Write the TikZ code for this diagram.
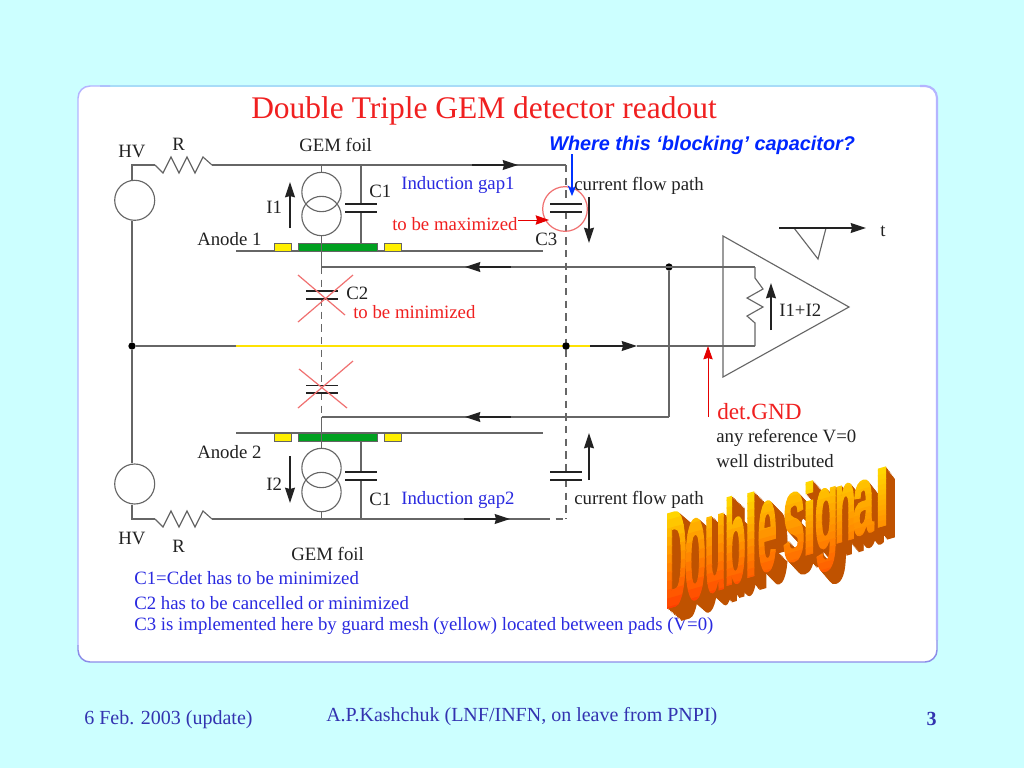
\documentclass[tikz,border=0pt]{standalone}
\usepackage{fontspec}
\setmainfont{Liberation Serif}
\newfontfamily\wafont{Liberation Sans}
\newfontfamily\wafat[FakeBold=2.2]{Liberation Sans Bold}
\usetikzlibrary{arrows.meta,calc}
\definecolor{bgc}{HTML}{CCFFFF}
\definecolor{wire}{HTML}{666666}
\definecolor{ink}{HTML}{222222}
\definecolor{bluetxt}{HTML}{2A2AE0}
\definecolor{redtxt}{HTML}{F02020}
\definecolor{foot}{HTML}{3333B0}
\definecolor{cross}{HTML}{F07070}
\definecolor{gemgreen}{HTML}{00A020}
\definecolor{meshy}{HTML}{FFF000}
\definecolor{extr}{HTML}{BF5200}
\definecolor{waa}{HTML}{FFD800}
\definecolor{wab}{HTML}{FF3C00}
\definecolor{frmtop}{HTML}{A8DCF8}
\definecolor{frmright}{HTML}{B4B4FF}
\definecolor{frmbot}{HTML}{8C8CE8}
\tikzset{
  x=0.75pt,y=-0.75pt,
  wr/.style={draw=wire,line width=0.85pt},
  plate/.style={draw=ink,line width=0.9pt},
  dsh/.style={draw=wire,line width=0.85pt,dash pattern=on 5.5pt off 4pt},
  arr/.style={draw=ink,line width=0.95pt,-{Stealth[length=11.5pt,width=7.5pt,inset=1pt]}},
  redarr/.style={draw=red!90!black,line width=0.7pt,-{Stealth[length=10pt,width=7pt,inset=1pt]}},
  lab/.style={font=\fontsize{14.1}{16}\selectfont,text=ink,inner sep=0pt,anchor=west,yshift=-1.3pt},
  blab/.style={lab,text=bluetxt},
  rlab/.style={lab,text=redtxt},
  src/.style={circle,draw=wire,line width=0.85pt,minimum size=30pt,inner sep=0pt},
  dotn/.style={circle,fill=black,inner sep=0pt,minimum size=5.5pt},
  crs/.style={draw=cross,line width=0.9pt},
  foottx/.style={font=\fontsize{15}{17}\selectfont,text=foot,inner sep=0pt,yshift=-1.5pt},
}
\newcommand{\resup}[2]{\draw[wr] (#1) -- ++(8,8) -- ++(8,-16) -- ++(8,16) -- ++(8,-16) -- ++(8,16) -- ++(8,-16) -- (#2);}
\begin{document}
\begin{tikzpicture}
\useasboundingbox (0,0) rectangle (1024,768);
\fill[bgc] (0,0) rectangle (1024,768);
% frame
\fill[white,rounded corners=9pt] (78,86) rectangle (937,662);
\draw[draw=frmtop,line width=1.1pt] (100,86) -- (925,86);
\draw[draw=frmright,line width=1.1pt,rounded corners=9pt] (78,645) -- (78,86) -- (110,86);
\draw[draw=frmright,line width=1.6pt,rounded corners=9pt] (920,86) -- (937,86) -- (937,640);
\draw[draw=frmbot,line width=1.1pt,rounded corners=9pt] (78,645) -- (78,662) -- (937,662) -- (937,640);
% title
\node[font=\fontsize{23.6}{26}\selectfont,text=redtxt,inner sep=0pt,anchor=west,yshift=-2.6pt] (title) at (251,107) {Double Triple GEM detector readout};
% named points
\coordinate (tl) at (132,165); \coordinate (bl) at (132,519);
\coordinate (r1a) at (155,165); \coordinate (r1b) at (212,165);
\coordinate (r2a) at (155,519); \coordinate (r2b) at (212,519);
\coordinate (junL) at (132,346);
\coordinate (g1) at (321.5,165); \coordinate (g2) at (321.5,519);
\coordinate (c1t) at (361,165); \coordinate (c1b) at (361,519);
\coordinate (c3t) at (566,165); \coordinate (c3b) at (566,519);
\coordinate (s1) at (321.5,267); \coordinate (s2) at (321.5,417);
\coordinate (ampR) at (755,267); \coordinate (ampG) at (755,346);
\node[dotn] (jL) at (junL) {};
\node[dotn] (jC) at (566,346) {};
\node[dotn] (jR) at (669,267) {};
\coordinate (jB) at (669,417);
% HV sources
\node[src] (hv1) at (134.7,200.3) {};
\node[src] (hv2) at (134.7,484) {};
\draw[wr] (r1a) -- (tl) -- (tl|-hv1.north);
\draw[wr] (tl|-hv1.south) -- (jL);
\draw[wr] (jL) -- (tl|-hv2.north);
\draw[wr] (tl|-hv2.south) -- (bl) -- (r2a);
\resup{r1a}{r1b}
\resup{r2a}{r2b}
% top/bottom rails
\draw[wr] (r1b) -- (c3t);
\draw[wr] (r2b) -- (543,519);
\coordinate (a1) at (472,165); \coordinate (a1e) at (518,165);
\coordinate (a2) at (464,519); \coordinate (a2e) at (510,519);
\draw[arr] (a1) -- (a1e);
\draw[arr] (a2) -- (a2e);
\draw[dsh] (543,519) -- (c3b);
% current sources
\node[src,minimum size=29.5pt] (i1a) at (321.5,192) {};
\node[src,minimum size=29.5pt] (i1b) at (321.5,216) {};
\node[src,minimum size=29.5pt] (i2a) at (321.5,468) {};
\node[src,minimum size=29.5pt] (i2b) at (321.5,492) {};
\draw[wr] (g1) -- (i1a.north);
\draw[wr] (g2) -- (i2b.south);
% C1 capacitors
\draw[wr] (c1t) -- (361,204); \draw[wr] (361,212) -- (361,244);
\draw[plate] (345,204) -- (377,204); \draw[plate] (345,212) -- (377,212);
\draw[wr] (c1b) -- (361,480); \draw[wr] (361,472) -- (361,441);
\draw[plate] (345,472) -- (377,472); \draw[plate] (345,480) -- (377,480);
% anodes
\draw[wr] (236,251) -- (543,251);
\draw[wr] (236,433) -- (543,433);
\draw[draw=ink!70,line width=0.4pt,fill=gemgreen] (298,243.5) rectangle (377,251);
\draw[draw=ink!70,line width=0.4pt,fill=gemgreen] (298,433) rectangle (377,441);
\draw[draw=ink!70,line width=0.5pt,fill=meshy] (274,243.5) rectangle (291,251);
\draw[draw=ink!70,line width=0.5pt,fill=meshy] (384,243.5) rectangle (401,251);
\draw[draw=ink!70,line width=0.5pt,fill=meshy] (274,433) rectangle (291,441);
\draw[draw=ink!70,line width=0.5pt,fill=meshy] (384,433) rectangle (401,441);
\draw[wr] (i1b.south) -- (s1);
\draw[wr] (i2a.north) -- (s2);
% signal rails
\draw[wr] (s1) -- (ampR);
\draw[wr] (s2) -- (jB);
\draw[wr] (jR) -- (jB);
\draw[arr] (511,267) -- (465,267);
\draw[arr] (511,417) -- (465,417);
% main line
\draw[wr] (jL) -- (236,346);
\draw[draw=yellow!85!orange,line width=1pt] (236,346) -- (590,346);
\draw[wr] (637,346) -- (ampG);
\draw[arr] (590,346) -- (637,346);
% C2 dashed
\draw[dsh] (s1) -- (321.5,291);
\draw[dsh] (321.5,299) -- (321.5,385);
\draw[dsh] (321.5,393) -- (s2);
\draw[plate] (306,291) -- (338,291); \draw[plate] (306,299) -- (338,299);
\draw[plate] (306,385.5) -- (338,385.5); \draw[plate] (306,393) -- (338,393);
\draw[crs] (298,275) -- (345,315); \draw[crs] (353,275) -- (298,322);
\draw[crs] (299,369) -- (347,408); \draw[crs] (353,361) -- (298,408);
% C3
\draw[dsh] (c3t) -- (566,204);
\draw[dsh] (566,212) -- (jC);
\draw[dsh] (jC) -- (566,472);
\draw[dsh] (566,480) -- (c3b);
\draw[plate] (550,204) -- (582,204); \draw[plate] (550,212) -- (582,212);
\draw[plate] (550,472) -- (582,472); \draw[plate] (550,480) -- (582,480);
\node[circle,draw=cross,line width=0.9pt,minimum size=33.5pt,inner sep=0pt] (c3c) at (565,209) {};
\node[dotn] (jC2) at (jC) {};
\draw[arr] (589,197) -- (589,243);
\draw[arr] (589,480) -- (589,433);
% I arrows
\draw[arr] (290,228) -- (290,182);
\draw[arr] (290,456) -- (290,503);
% amplifier
\draw[wr] (723,236) -- (849,307) -- (723,377) -- cycle;
\draw[wr] (ampR) -- (755,278) -- (763,289) -- (747,298) -- (763,307) -- (747,316) -- (755,323) -- (ampG);
\draw[arr] (771,330) -- (771,283);
\draw[wr] (794,228) -- (818,259) -- (826,228);
\draw[arr] (779,228) -- (866,228);
\draw[redarr] (708,417) -- (708,346);
\draw[redarr] (518,220) -- (549,220);
\draw[draw=blue!80!cyan,line width=0.8pt,-{Stealth[length=8pt,width=6.5pt]}] (572,154) -- (572,196);
% labels
\node[lab] (hvt) at (118,150) {HV};
\node[lab] (rt) at (172,143) {R};
\node[lab] (gt) at (299,143) {GEM foil};
\node[lab] (c1ta) at (369,190) {C1};
\node[lab] (i1t) at (266,206) {I1};
\node[lab] (an1) at (197,237) {Anode 1};
\node[blab] (ig1) at (401,183) {Induction gap1};
\node[lab] (cf1) at (574,184) {current flow path};
\node[rlab] (tbm) at (392,222) {to be maximized};
\node[lab] (c3l) at (535,238) {C3};
\node[lab] (c2l) at (346,292) {C2};
\node[rlab] (tbn) at (353,310) {to be minimized};
\node[lab] (i12) at (779,309) {I1+I2};
\node[lab] (tl2) at (880,230) {t};
\node[font=\fontsize{17.4}{19}\selectfont,text=redtxt,inner sep=0pt,anchor=west,yshift=-1.5pt] (gnd) at (717,410) {det.GND};
\node[lab] (anyr) at (716,436) {any reference V=0};
\node[lab] (well) at (716,459) {well distributed};
\node[lab] (an2) at (197,450) {Anode 2};
\node[lab] (i2t) at (266,483) {I2};
\node[lab] (c1tb) at (369,498) {C1};
\node[blab] (ig2) at (401,498) {Induction gap2};
\node[lab] (cf2) at (574,498) {current flow path};
\node[lab] (hvb) at (118,537) {HV};
\node[lab] (rb) at (172,545) {R};
\node[lab] (gb) at (291,552) {GEM foil};
\node[blab] (n1) at (134,576) {C1=Cdet has to be minimized};
\node[blab] (n2) at (134,601) {C2 has to be cancelled or minimized};
\node[blab] (n3) at (134,624) {C3 is implemented here by guard mesh (yellow) located between pads (V=0)};
\node[font=\wafont\bfseries\itshape\fontsize{14.9}{17}\selectfont,text=blue!85!cyan,inner sep=0pt,anchor=west,yshift=-0.7pt] (where) at (549,144) {Where this ‘blocking’ capacitor?};
% footer
\node[foottx,anchor=west] (f1) at (84,718) {6 Feb. 2003 (update)};
\node[foottx,anchor=west] (f2) at (326,715) {A.P.Kashchuk (LNF/INFN, on leave from PNPI)};
\node[foottx,anchor=east,font=\bfseries\fontsize{15}{17}\selectfont] (f3) at (937,717) {3};
% WordArt: extrusion first, then gradient faces
\foreach \ch/\xo/\ww/\nat/\vs [count=\n] in {D/665/21/7.22/1,o/684/21/6.11/1.12,u/704/21/6.11/1.12,b/724/21/6.11/1,l/744/12/2.78/1,e/757/19/5.56/1.15,s/782/22/5.56/1.2,i/802/13/2.78/1,g/814/23/6.11/1.15,n/834/21/6.11/1.15,a/852/21/5.56/1.15,l/874/14/2.78/1}{
  \pgfmathsetmacro{\bsl}{608-0.383*(\xo-665)}
  \pgfmathsetmacro{\hgt}{98-0.193*(\xo-665)}
  \pgfmathsetmacro{\mxa}{\ww*0.75/\nat}
  \pgfmathsetmacro{\mxb}{0.285*\mxa}
  \pgfmathsetmacro{\mxd}{\vs*\hgt*0.75/7.29}
  \pgfmathsetmacro{\dxm}{14-0.025*(\xo-665)}
  \foreach \e in {1,...,10}{
    \pgfmathsetmacro{\ox}{\xo+\dxm*\e/10}
    \pgfmathsetmacro{\oy}{\bsl+12*\e/10}
    \begin{scope}[cm={\mxa,\mxb,0,\mxd,(\ox,\oy)}]
      \node[transform shape,anchor=base west,inner sep=0pt,text=extr,font=\wafat\fontsize{10}{12}\selectfont] (ex\n-\e) at (0,0) {\ch};
    \end{scope}
  }
}
\foreach \ch/\xo/\ww/\nat/\vs [count=\n] in {D/665/21/7.22/1,o/684/21/6.11/1.12,u/704/21/6.11/1.12,b/724/21/6.11/1,l/744/12/2.78/1,e/757/19/5.56/1.15,s/782/22/5.56/1.2,i/802/13/2.78/1,g/814/23/6.11/1.15,n/834/21/6.11/1.15,a/852/21/5.56/1.15,l/874/14/2.78/1}{
  \pgfmathsetmacro{\bsl}{608-0.383*(\xo-665)}
  \pgfmathsetmacro{\hgt}{98-0.193*(\xo-665)}
  \pgfmathsetmacro{\mxa}{\ww*0.75/\nat}
  \pgfmathsetmacro{\mxb}{0.285*\mxa}
  \pgfmathsetmacro{\mxd}{\vs*\hgt*0.75/7.29}
  \pgfmathsetmacro{\spn}{1-0.55*(\xo-665)/222}
  \foreach \k in {0,...,15}{
    \pgfmathsetmacro{\ytop}{7.8-\k*0.65}
    \pgfmathsetmacro{\ybot}{\ytop-0.75}
    \pgfmathsetmacro{\mixp}{min(100,max(0,100*\spn*(7.3-\ytop)/7.3))}
    \colorlet{wacur}{wab!\mixp!waa}
    \begin{scope}[cm={\mxa,\mxb,0,\mxd,(\xo,\bsl)}]
      \clip (-1pt,\ybot pt) rectangle (12pt,\ytop pt);
      \node[transform shape,anchor=base west,inner sep=0pt,text=wacur,font=\wafat\fontsize{10}{12}\selectfont] (fc\n-\k) at (0,0) {\ch};
    \end{scope}
  }
}
\end{tikzpicture}
\end{document}
